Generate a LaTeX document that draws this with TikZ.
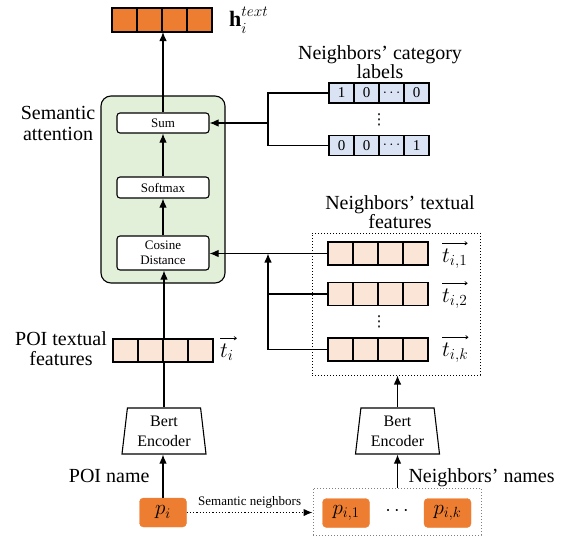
\RequirePackage{fix-cm}
\documentclass[tikz,border=0pt]{standalone}
\usepackage{fontspec}
\setmainfont{Liberation Serif}
\newfontfamily\symfont{DejaVu Sans}
\usetikzlibrary{shapes.geometric,arrows.meta,calc}

\definecolor{embOrange}{HTML}{ED7D31}
\definecolor{embPeach}{HTML}{FBE5D6}
\definecolor{embBlue}{HTML}{DAE3F3}
\definecolor{attGreen}{HTML}{E2F0D9}

% four adjacent cells: prefix, left x, centre y, cell style, four entries
\newcommand\cellrow[8]{%
  \node[#4] (#1a) at (#2+12.5,#3) {#5};
  \node[#4] (#1b) at (#2+37.5,#3) {#6};
  \node[#4] (#1c) at (#2+62.5,#3) {#7};
  \node[#4] (#1d) at (#2+87.5,#3) {#8};}

\tikzset{
  big/.style={font=\fontsize{20}{#1}\selectfont},
  big/.default=20,
  mathlab/.style={font=\fontsize{22}{22}\selectfont, inner sep=0pt},
  vecbar/.style={line width=0.7pt, -{To[length=3pt,width=4pt]}},
  vdotsmark/.style={font=\symfont\fontsize{15}{15}\selectfont, inner sep=0pt},
  cell/.style={draw, line width=1.1pt, minimum width=25pt, minimum height=23pt,
    inner sep=0pt, outer sep=0pt},
  orangecell/.style={cell, fill=embOrange, minimum height=24pt},
  peachcell/.style={cell, fill=embPeach},
  bluecell/.style={cell, fill=embBlue, minimum height=20pt,
    font=\fontsize{15}{15}\selectfont},
  attbox/.style={draw, line width=1.1pt, fill=attGreen, rounded corners=10pt,
    minimum width=124pt, minimum height=187pt, inner sep=0pt},
  opbox/.style={draw, line width=1.1pt, fill=white, rounded corners=3pt,
    minimum width=92pt, inner sep=0pt, align=center,
    font=\fontsize{13}{15}\selectfont},
  bert/.style={draw, line width=1.1pt, trapezium, trapezium stretches body,
    trapezium left angle=80, trapezium right angle=80,
    minimum width=84pt, minimum height=46pt, inner sep=0pt, align=center,
    font=\fontsize{16}{20}\selectfont},
  poibox/.style={fill=embOrange, draw=embOrange, rounded corners=4pt,
    minimum width=47pt, minimum height=29pt, inner sep=0pt,
    font=\fontsize{21}{21}\selectfont},
  groupbox/.style={draw, dotted, line width=1pt, inner sep=0pt},
  arr/.style={line width=1.1pt, -{Latex[length=9pt,width=7.5pt]}},
  link/.style={line width=1.1pt},
}

\begin{document}
\begin{tikzpicture}[x=1pt,y=-1pt]
\useasboundingbox (0,0) rectangle (561,538);

% ---------- attention block ----------
\node[attbox] (att) at (163,189.5) {};
\node[opbox, minimum height=20pt] (sum) at (163,123) {Sum};
\node[opbox, minimum height=21pt] (soft) at (163,187.5) {Softmax};
\node[opbox, minimum height=34pt] (cos) at (163,253) {Cosine\\Distance};
\node[big=21, align=center] (attlab) at (58,123) {Semantic\\attention};

% ---------- output embedding ----------
\cellrow{h}{112}{20}{orangecell}{}{}{}{}
\node[mathlab, anchor=base west] (hlab) at (229,26)
  {$\mathbf{h}^{\raise2pt\hbox{$\scriptstyle text$}}_{\lower2pt\hbox{$\scriptstyle i$}}$};

% ---------- category labels ----------
\node[big=17, align=center] (catlab) at (380,62) {Neighbors’ category\\labels};
\cellrow{ca}{329}{93}{bluecell}{1}{0}{$\cdots$}{0}
\cellrow{cb}{329}{145.5}{bluecell}{0}{0}{$\cdots$}{1}
\node[vdotsmark] (cdots) at (379,119.5) {⋮};

% ---------- neighbours' textual features ----------
\node[big=17, align=center] (ntflab) at (400,212) {Neighbors’ textual\\features};
\node[groupbox, minimum width=168pt, minimum height=142pt] (nbox) at (396,304) {};
\cellrow{na}{328}{253.5}{peachcell}{}{}{}{}
\cellrow{nb}{328}{294}{peachcell}{}{}{}{}
\cellrow{nk}{328}{349.5}{peachcell}{}{}{}{}
\node[vdotsmark] (ndots) at (379,322) {⋮};
\node[mathlab, anchor=base west] (ta) at (442,262) {$t_{i,1}$};
\node[mathlab, anchor=base west] (tb) at (442,302) {$t_{i,2}$};
\node[mathlab, anchor=base west] (tk) at (442,356) {$t_{i,k}$};
\draw[vecbar] ([yshift=5pt]ta.north west) -- ([yshift=5pt]ta.north east);
\draw[vecbar] ([yshift=5pt]tb.north west) -- ([yshift=5pt]tb.north east);
\draw[vecbar] ([yshift=5pt]tk.north west) -- ([yshift=5pt]tk.north east);

% ---------- POI textual feature ----------
\node[big=20, align=center] (poitflab) at (61,349) {POI textual\\features};

% ---------- encoders ----------
\node[bert] (bertL) at (164,431) {Bert\\Encoder};
\node[bert] (bertR) at (397.5,431) {Bert\\Encoder};

% encoder -> cosine distance (passes behind the POI feature cells)
\draw[arr] (bertL.north) -- (bertL.north |- cos.south);
\cellrow{pv}{113}{350.5}{peachcell}{}{}{}{}
\node[mathlab, anchor=base west] (tlab) at (220,357) {$t_i$};
\draw[vecbar] ([yshift=5pt]tlab.north west) -- ([xshift=3pt,yshift=5pt]tlab.north east);

% ---------- POIs ----------
\node[poibox] (pi) at (163,512.5) {$p_i$};
\node[groupbox, draw=gray, minimum width=168pt, minimum height=47pt] (nbbox) at (397,511.5) {};
\node[poibox] (pi1) at (346,513) {$p_{i,1}$};
\node[poibox] (pik) at (447.5,513) {$p_{i,k}$};
\node[big] (pdots) at (397,511) {$\cdots$};
\node[big, anchor=base east] (poiname) at (153,482) {POI name};
\node[big, anchor=base west] (nbname) at (405,482) {Neighbors’ names};

% ---------- connectors ----------
\draw[arr] (sum.north) -- (sum.north |- hb.south);
\draw[arr] (soft.north) -- (sum.south);
\draw[arr] (cos.north) -- (soft.south);

\coordinate (cj) at (268,123);
\draw[link] (caa.west) -| (cj) |- (cba.west);
\draw[arr] (cj) -- (sum.east);

\draw[arr] (naa.west) -- (naa.west -| cos.east);
\coordinate (jt) at (268,253.5);
\coordinate (j2) at (268,294);
\coordinate (jk) at (268,349.5);
\draw[link] (j2) -- (nba.west);
\draw[link] (jk) -- (nka.west);
\draw[arr] (jk) -- (jt);

\draw[arr] (pi.north) -- (pi.north |- bertL.south);
\draw[arr] (bertR.north) -- (bertR.north |- nbox.south);
\draw[arr] (bertR.south |- nbbox.north) -- (bertR.south);
\draw[line width=1.2pt, dotted, -{Latex[length=9pt,width=7.5pt]}] (pi.east) -- (pi.east -| nbbox.west)
  node[midway, above=0pt, font=\fontsize{13}{13}\selectfont] (semlab) {Semantic neighbors};
\end{tikzpicture}
\end{document}
